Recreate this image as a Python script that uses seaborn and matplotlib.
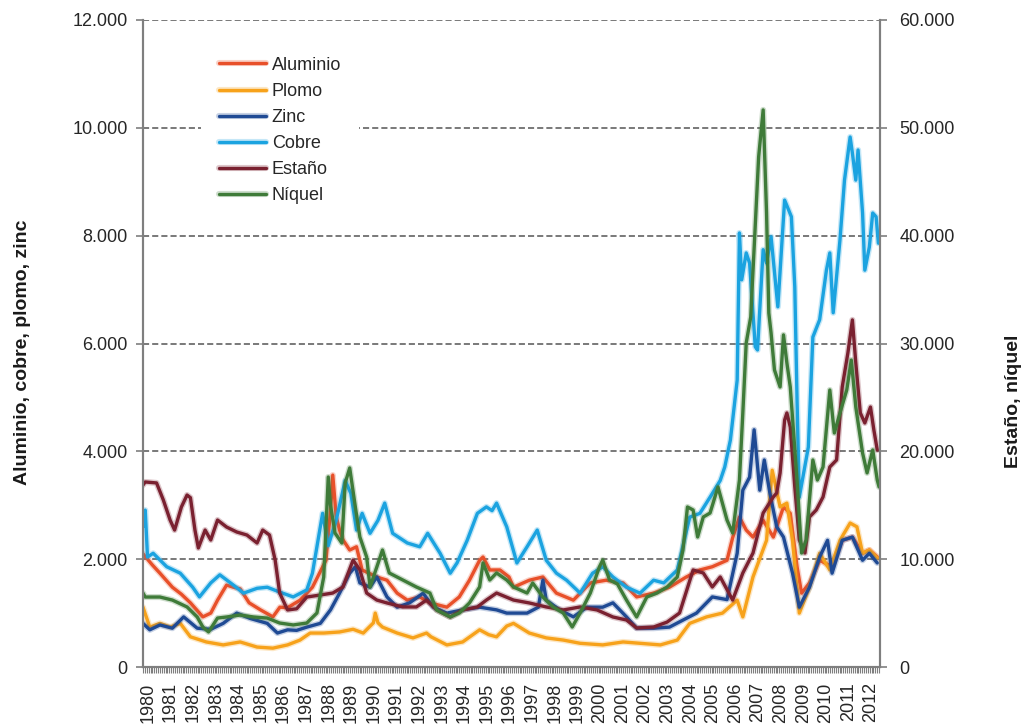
import pandas as pd
import matplotlib
matplotlib.use("Agg")
import matplotlib.pyplot as plt
import matplotlib.patheffects as pe
from matplotlib.ticker import FuncFormatter, MultipleLocator, FixedLocator
import seaborn as sns

# precios mensuales aproximados (USD/t)
# eje izquierdo: aluminio, plomo, zinc, cobre

al_x = [1980.0, 1980.4, 1980.75, 1981.3, 1981.7, 1982.1, 1982.65, 1983.0, 1983.3, 1983.7,
        1984.0, 1984.3, 1984.7, 1985.2, 1985.75, 1986.06, 1986.4, 1986.95, 1987.5, 1988.1,
        1988.3, 1988.4, 1988.55, 1988.7, 1988.85, 1989.15, 1989.45, 1989.7, 1990.35, 1990.8,
        1991.25, 1991.7, 1992.25, 1992.7, 1993.45, 1994.0, 1994.45, 1994.9, 1995.05, 1995.35,
        1995.8, 1996.2, 1996.4, 1997.1, 1997.7, 1998.3, 1999.05, 1999.8, 2000.5, 2001.25,
        2001.85, 2002.6, 2003.3, 2004.05, 2004.65, 2005.2, 2005.85, 2006.1, 2006.4, 2006.7,
        2007.0, 2007.45, 2007.9, 2008.35, 2008.65, 2008.95, 2009.15, 2009.5, 2009.95, 2010.5,
        2010.95, 2011.4, 2011.85, 2012.15, 2012.5]
al_y = [2100, 1900, 1740, 1480, 1350, 1190, 930, 1000, 1240, 1520,
        1480, 1450, 1190, 1060, 930, 1110, 1100, 1240, 1480, 1980,
        2900, 3560, 2800, 2540, 2360, 2170, 2230, 1800, 1670, 1610,
        1370, 1240, 1300, 1190, 1110, 1300, 1610, 1980, 2040, 1800,
        1800, 1670, 1480, 1610, 1670, 1370, 1240, 1560, 1610, 1560,
        1300, 1370, 1480, 1670, 1800, 1860, 1980, 2400, 2780, 2540,
        2410, 2720, 2410, 2970, 2850, 1860, 1370, 1560, 1980, 1860,
        2350, 2410, 2110, 2170, 2040]

pb_x = [1980.0, 1980.3, 1980.75, 1981.2, 1981.65, 1982.1, 1982.8, 1983.55, 1984.3, 1985.05,
        1985.75, 1986.4, 1986.95, 1987.4, 1988.0, 1988.7, 1989.3, 1989.75, 1990.2, 1990.28,
        1990.4, 1990.6, 1991.25, 1991.95, 1992.55, 1992.75, 1993.45, 1994.15, 1994.9, 1995.3,
        1995.65, 1996.1, 1996.4, 1997.1, 1997.85, 1998.6, 1999.35, 2000.35, 2001.25, 2002.0,
        2002.9, 2003.65, 2004.2, 2004.95, 2005.65, 2006.3, 2006.55, 2007.0, 2007.6, 2007.85,
        2008.2, 2008.5, 2008.75, 2009.05, 2009.5, 2009.95, 2010.4, 2010.85, 2011.3, 2011.6,
        2011.85, 2012.15, 2012.5]
pb_y = [1110, 740, 810, 740, 810, 560, 465, 410, 465, 370,
        350, 410, 500, 630, 630, 650, 700, 630, 820, 1000,
        820, 740, 630, 540, 630, 560, 410, 465, 690, 600,
        560, 760, 810, 630, 540, 500, 440, 410, 465, 440,
        410, 500, 810, 930, 1000, 1240, 930, 1670, 2350, 3650,
        2970, 3040, 2350, 1000, 1480, 2110, 1800, 2350, 2670, 2600,
        2110, 2170, 2020]

zn_x = [1980.0, 1980.3, 1980.75, 1981.3, 1981.8, 1982.4, 1983.0, 1983.55, 1984.15, 1984.75,
        1985.5, 1985.95, 1986.4, 1986.8, 1987.25, 1987.85, 1988.3, 1988.7, 1989.15, 1989.4,
        1989.6, 1990.05, 1990.35, 1990.8, 1991.25, 1991.8, 1992.4, 1992.85, 1993.45, 1994.15,
        1994.9, 1995.65, 1996.1, 1997.0, 1997.5, 1997.7, 1997.85, 1998.45, 1999.05, 1999.65,
        2000.35, 2000.8, 2001.4, 2001.85, 2002.6, 2003.3, 2003.9, 2004.5, 2005.2, 2005.85,
        2006.3, 2006.55, 2006.85, 2007.05, 2007.3, 2007.5, 2007.75, 2008.05, 2008.35, 2008.75,
        2009.05, 2009.5, 2009.95, 2010.3, 2010.5, 2010.95, 2011.4, 2011.85, 2012.15, 2012.5]
zn_y = [810, 690, 780, 720, 930, 720, 700, 810, 1000, 900,
        810, 630, 690, 680, 740, 810, 1060, 1370, 1740, 1860,
        1560, 1480, 1670, 1300, 1110, 1190, 1370, 1110, 1000, 1060,
        1110, 1060, 1000, 1000, 1110, 1610, 1240, 1060, 930, 1110,
        1110, 1190, 930, 720, 720, 740, 870, 1000, 1300, 1250,
        2110, 3280, 3520, 4400, 3280, 3840, 3220, 2600, 2410, 1740,
        1110, 1480, 2040, 2350, 1740, 2350, 2410, 1980, 2110, 1930]

cu_x = [1980.0, 1980.1, 1980.2, 1980.45, 1981.05, 1981.65, 1982.2, 1982.5, 1983.0, 1983.4,
        1984.0, 1984.45, 1985.05, 1985.5, 1986.05, 1986.65, 1987.25, 1987.5, 1987.95, 1988.2,
        1988.55, 1988.95, 1989.2, 1989.45, 1989.7, 1990.05, 1990.4, 1990.7, 1991.05, 1991.7,
        1992.25, 1992.6, 1993.15, 1993.6, 1993.9, 1994.35, 1994.8, 1995.2, 1995.45, 1995.65,
        1996.1, 1996.55, 1997.0, 1997.45, 1997.85, 1998.3, 1998.75, 1999.35, 1999.9, 2000.35,
        2000.8, 2001.4, 2002.0, 2002.6, 2003.05, 2003.65, 2004.2, 2004.65, 2005.1, 2005.55,
        2005.75, 2006.0, 2006.3, 2006.4, 2006.5, 2006.7, 2006.85, 2007.1, 2007.2, 2007.45,
        2007.6, 2007.8, 2008.1, 2008.4, 2008.7, 2008.85, 2008.95, 2009.05, 2009.45, 2009.65,
        2009.95, 2010.25, 2010.4, 2010.55, 2010.85, 2011.05, 2011.3, 2011.4, 2011.55, 2011.65,
        2011.85, 2011.95, 2012.15, 2012.3, 2012.45, 2012.55]
cu_y = [2600, 2910, 2040, 2110, 1860, 1740, 1480, 1300, 1560, 1710,
        1520, 1370, 1460, 1480, 1390, 1300, 1430, 1740, 2850, 2250,
        2720, 3460, 3220, 2540, 2850, 2480, 2720, 3040, 2480, 2300,
        2230, 2480, 2110, 1740, 1930, 2350, 2850, 2970, 2900, 3040,
        2600, 1930, 2230, 2540, 1980, 1740, 1610, 1370, 1740, 1860,
        1670, 1480, 1370, 1610, 1560, 1800, 2780, 2850, 3150, 3460,
        3710, 4210, 5320, 8050, 7180, 7680, 7490, 5940, 5880, 7740,
        7490, 7980, 6680, 8660, 8350, 7050, 4950, 3150, 4080, 6120,
        6440, 7360, 7680, 6570, 7920, 9030, 9830, 9530, 9030, 9590,
        8420, 7360, 7790, 8420, 8350, 7860]

# eje derecho: estaño, níquel
sn_x = [1980.0, 1980.1, 1980.6, 1980.9, 1981.2, 1981.4, 1981.7, 1981.95, 1982.1, 1982.3,
        1982.45, 1982.75, 1983.0, 1983.3, 1983.7, 1984.15, 1984.6, 1985.05, 1985.3, 1985.6,
        1985.85, 1986.05, 1986.4, 1986.8, 1987.25, 1987.85, 1988.4, 1988.85, 1989.3, 1989.6,
        1989.9, 1990.35, 1990.8, 1991.5, 1992.1, 1992.55, 1993.0, 1993.6, 1994.15, 1994.8,
        1995.2, 1995.65, 1996.4, 1997.1, 1997.85, 1998.6, 1999.35, 2000.1, 2000.8, 2001.4,
        2001.85, 2002.6, 2003.2, 2003.75, 2004.35, 2004.8, 2005.2, 2005.55, 2006.1, 2006.55,
        2007.0, 2007.45, 2007.9, 2008.05, 2008.2, 2008.4, 2008.5, 2008.65, 2008.85, 2009.05,
        2009.3, 2009.5, 2009.8, 2010.1, 2010.4, 2010.7, 2010.95, 2011.2, 2011.4, 2011.55,
        2011.75, 2011.95, 2012.2, 2012.35, 2012.5]
sn_y = [16880, 17160, 17070, 15490, 13630, 12700, 14840, 15950, 15700, 12700,
        11040, 12700, 11780, 13630, 12980, 12520, 12240, 11500, 12700, 12240,
        9920, 6860, 5290, 5400, 6490, 6680, 6860, 7420, 9920, 9000,
        6860, 6210, 5940, 5570, 5570, 6210, 5290, 4640, 5290, 5570,
        6210, 6860, 6210, 5940, 5570, 5290, 5570, 5290, 4640, 4360,
        3620, 3710, 4170, 5010, 9000, 8720, 7420, 8350, 6210, 8720,
        10570, 14280, 15770, 16140, 18000, 22900, 23560, 22260, 16700, 11780,
        10570, 13910, 14560, 15770, 18550, 19200, 25970, 29120, 32190, 28200,
        23560, 22630, 24110, 21980, 20130]

ni_x = [1980.0, 1980.1, 1980.75, 1981.3, 1981.95, 1982.4, 1982.65, 1982.9, 1983.3, 1983.7,
        1984.3, 1984.9, 1985.5, 1986.05, 1986.65, 1987.25, 1987.7, 1988.0, 1988.2, 1988.3,
        1988.5, 1988.8, 1988.95, 1989.15, 1989.4, 1989.6, 1989.9, 1990.05, 1990.35, 1990.6,
        1990.9, 1991.5, 1992.1, 1992.7, 1993.0, 1993.6, 1994.0, 1994.45, 1994.9, 1995.05,
        1995.35, 1995.65, 1996.1, 1996.4, 1997.0, 1997.25, 1997.7, 1998.15, 1998.6, 1999.0,
        1999.35, 1999.8, 2000.2, 2000.35, 2000.65, 2001.0, 2001.4, 2001.85, 2002.3, 2002.75,
        2003.2, 2003.65, 2003.9, 2004.1, 2004.35, 2004.55, 2004.8, 2005.1, 2005.45, 2005.85,
        2006.1, 2006.4, 2006.55, 2006.7, 2006.9, 2007.25, 2007.45, 2007.6, 2007.7, 2007.8,
        2007.95, 2008.2, 2008.35, 2008.5, 2008.65, 2008.95, 2009.15, 2009.35, 2009.65, 2009.85,
        2010.1, 2010.4, 2010.6, 2010.85, 2011.15, 2011.35, 2011.55, 2011.85, 2012.05, 2012.3,
        2012.5, 2012.58]
ni_y = [6860, 6490, 6490, 6210, 5570, 4640, 3710, 3250, 4540, 4640,
        4820, 4640, 4540, 4080, 3900, 4080, 5010, 8350, 17620, 15000,
        12430, 11500, 17070, 18460, 14840, 12060, 10200, 7420, 9280, 10850,
        8720, 8070, 7420, 6860, 5290, 4640, 5010, 5940, 7420, 9650,
        8070, 8720, 8070, 7420, 6860, 7790, 6490, 5570, 5010, 3710,
        5010, 6860, 9280, 9920, 8070, 7700, 6210, 4640, 6490, 6860,
        7420, 8350, 10850, 14840, 14560, 12060, 13910, 14280, 16700, 13630,
        12430, 17340, 23560, 30050, 32460, 47300, 51660, 42110, 32830, 30980,
        27550, 25970, 30800, 28200, 25970, 17340, 10570, 11780, 19200, 17340,
        18550, 25690, 21700, 23560, 25690, 28470, 24110, 19850, 18000, 20130,
        17340, 16700]

left_names = ["Aluminio", "Plomo", "Zinc", "Cobre"]
right_names = ["Estaño", "Níquel"]
colores = {"Aluminio": "#E8502A", "Plomo": "#F7A21B", "Zinc": "#1F4A94",
           "Cobre": "#1BA3E0", "Estaño": "#7A2130", "Níquel": "#3F7B39"}
years = list(range(1980, 2013))

left_df = pd.concat([
    pd.DataFrame({"anio": al_x, "valor": al_y, "metal": "Aluminio"}),
    pd.DataFrame({"anio": pb_x, "valor": pb_y, "metal": "Plomo"}),
    pd.DataFrame({"anio": zn_x, "valor": zn_y, "metal": "Zinc"}),
    pd.DataFrame({"anio": cu_x, "valor": cu_y, "metal": "Cobre"}),
])
right_df = pd.concat([
    pd.DataFrame({"anio": sn_x, "valor": sn_y, "metal": "Estaño"}),
    pd.DataFrame({"anio": ni_x, "valor": ni_y, "metal": "Níquel"}),
])

sns.set_style("white")
plt.rcParams['font.family'] = ['Liberation Sans', 'DejaVu Sans']

fig = plt.figure(figsize=(10.25, 7.27), dpi=100)
ax = fig.add_axes([0.1395, 0.0825, 0.719, 0.89])
ax2 = ax.twinx()

sns.lineplot(data=left_df, x="anio", y="valor", hue="metal", hue_order=left_names,
             palette=colores, linewidth=2.4, errorbar=None, legend=False, ax=ax)
sns.lineplot(data=right_df, x="anio", y="valor", hue="metal", hue_order=right_names,
             palette=colores, linewidth=2.4, errorbar=None, legend=False, ax=ax2)

# halo suave como en la imagen original
for line in ax.lines + ax2.lines:
    c = line.get_color()
    line.set_path_effects([pe.Stroke(linewidth=4.4, foreground=c, alpha=0.25), pe.Normal()])

fmt = FuncFormatter(lambda v, p: f"{v:,.0f}".replace(",", "."))

ax.set_xlim(1980, 2012.62)
ax.set_ylim(0, 12000)
ax2.set_ylim(0, 60000)
ax.yaxis.set_major_locator(MultipleLocator(2000))
ax2.yaxis.set_major_locator(MultipleLocator(10000))
ax.yaxis.set_major_formatter(fmt)
ax2.yaxis.set_major_formatter(fmt)

ax.yaxis.grid(True, linestyle=(0, (4, 2)), color="#555555", linewidth=1.1)
ax.xaxis.grid(False)
ax.set_axisbelow(True)

ax.xaxis.set_major_locator(FixedLocator([y + 0.22 for y in years]))
ax.set_xticklabels([str(y) for y in years], rotation=90, fontsize=13, color="#262626")
ax.xaxis.set_minor_locator(MultipleLocator(1 / 12))
ax.tick_params(axis="x", which="major", length=0, pad=11)
ax.tick_params(axis="x", which="minor", bottom=True, length=4, width=0.8, color="#7f7f7f")
ax.tick_params(axis="y", which="major", left=True, length=5, width=1.2, color="#7f7f7f",
               labelsize=13, labelcolor="#262626", pad=6)
ax2.tick_params(axis="y", which="major", right=True, length=5, width=1.2, color="#7f7f7f",
                labelsize=13, labelcolor="#262626", pad=9)

for a in (ax, ax2):
    a.spines["top"].set_visible(False)
    for s in ("left", "right", "bottom"):
        a.spines[s].set_color("#7f7f7f")
        a.spines[s].set_linewidth(1.5)
    a.set_xlabel("")

ax.set_ylabel("Aluminio, cobre, plomo, zinc", fontsize=14, fontweight="bold", color="#1a1a1a")
ax.yaxis.set_label_coords(-0.152, 0.487)
ax2.set_ylabel("Estaño, níquel", fontsize=14, fontweight="bold", color="#1a1a1a",
               rotation=90)
ax2.yaxis.set_label_coords(1.17, 0.41)

handles = ax.lines + ax2.lines
ax2.legend(handles, left_names + right_names, loc="upper left",
           bbox_to_anchor=(0.079, 0.971), borderaxespad=0, frameon=True,
           facecolor="white", edgecolor="none", framealpha=1, fontsize=13,
           handlelength=2.6, handletextpad=0.3, labelspacing=0.5, borderpad=1.0)

plt.savefig("out.png", dpi=100)
